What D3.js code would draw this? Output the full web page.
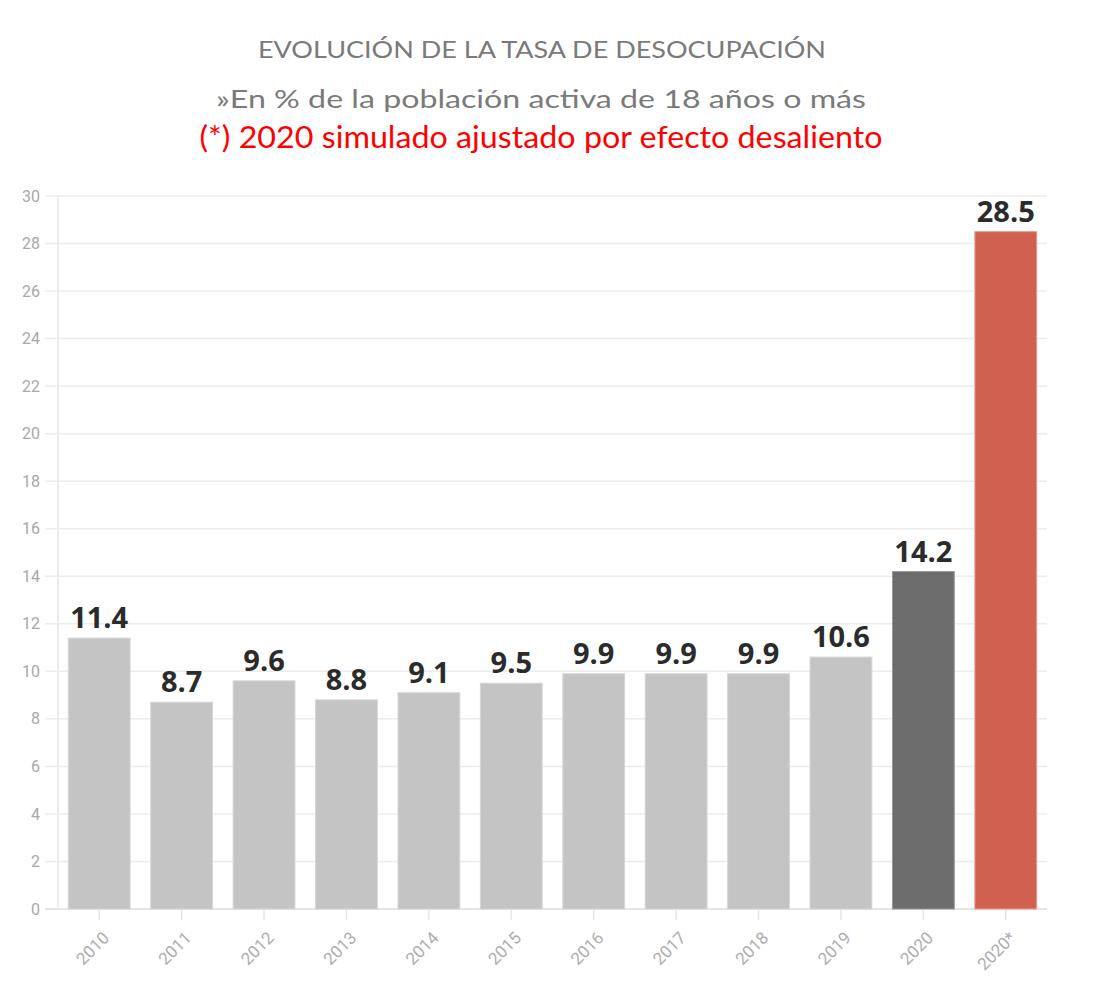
<!DOCTYPE html>
<html>
<head>
<meta charset="utf-8">
<script src="https://cdn.jsdelivr.net/npm/d3@7"></script>
<style>
  body { margin: 0; background: #fff; }
  svg { display: block; }
</style>
</head>
<body>
<div id="chart"></div>
<script>
var years = ["2010", "2011", "2012", "2013", "2014", "2015", "2016", "2017", "2018", "2019", "2020", "2020*"];
var rates = [11.4, 8.7, 9.6, 8.8, 9.1, 9.5, 9.9, 9.9, 9.9, 10.6, 14.2, 28.5];
var yTicks = [0, 2, 4, 6, 8, 10, 12, 14, 16, 18, 20, 22, 24, 26, 28, 30];
var titleLines = [
  "EVOLUCIÓN DE LA TASA DE DESOCUPACIÓN",
  "»En % de la población activa de 18 años o más",
  "(*) 2020 simulado ajustado por efecto desaliento"
];

var width = 1104, height = 997;
var margin = {top: 196, right: 57, bottom: 88, left: 58};

var data = years.map(function(y, i) { return {year: y, value: rates[i]}; });

var svg = d3.select("#chart").append("svg")
    .attr("width", width)
    .attr("height", height);

// titles (narrow font in the original, so squeeze to its measured width)
var titles = svg.append("g").attr("text-anchor", "middle")
    .style("font-family", "Lato, 'Open Sans', sans-serif");
titles.append("text")
    .attr("x", 542).attr("y", 58)
    .attr("fill", "#7a7a7a")
    .style("font-size", "23px")
    .attr("textLength", 568).attr("lengthAdjust", "spacingAndGlyphs")
    .text(titleLines[0]);
titles.append("text")
    .attr("x", 541).attr("y", 108)
    .attr("fill", "#7a7a7a")
    .style("font-size", "25px")
    .attr("textLength", 650).attr("lengthAdjust", "spacingAndGlyphs")
    .text(titleLines[1]);
titles.append("text")
    .attr("x", 541).attr("y", 148)
    .attr("fill", "#ff0000")
    .style("font-size", "30px")
    .attr("textLength", 683).attr("lengthAdjust", "spacingAndGlyphs")
    .text(titleLines[2]);

var x = d3.scaleBand()
    .domain(years)
    .range([margin.left, width - margin.right])
    .paddingInner(0.25)
    .paddingOuter(0.125);

var y = d3.scaleLinear()
    .domain([0, 30])
    .range([height - margin.bottom, margin.top]);

// grid
svg.append("g")
  .selectAll("line")
  .data(yTicks).enter()
  .append("line")
    .attr("x1", 45)
    .attr("x2", width - margin.right)
    .attr("y1", function(d) { return y(d); })
    .attr("y2", function(d) { return y(d); })
    .attr("stroke", function(d) { return d === 0 ? "#e6e6e6" : "#ececec"; })
    .attr("stroke-width", function(d) { return d === 0 ? 2 : 1.5; });

svg.append("line")
    .attr("x1", margin.left).attr("x2", margin.left)
    .attr("y1", y(30)).attr("y2", y(0))
    .attr("stroke", "#ececec")
    .attr("stroke-width", 2);

// y axis
var yAxis = svg.append("g")
    .attr("transform", "translate(" + margin.left + ",0)")
    .call(d3.axisLeft(y).tickValues(yTicks).tickSize(0).tickPadding(18));
yAxis.select(".domain").remove();
yAxis.selectAll("text")
    .attr("fill", "#a8a8a8")
    .style("font-family", "Roboto, 'Open Sans', sans-serif")
    .style("font-size", "16px");

// x axis
var xAxis = svg.append("g")
    .attr("transform", "translate(0," + y(0) + ")")
    .call(d3.axisBottom(x).tickSize(11).tickPadding(6));
xAxis.select(".domain").remove();
xAxis.selectAll("line").attr("stroke", "#e6e6e6").attr("stroke-width", 1.5);
xAxis.selectAll("text")
    .attr("fill", "#adadad")
    .style("font-family", "Roboto, 'Open Sans', sans-serif")
    .style("font-size", "17px")
    .attr("text-anchor", "end")
    .attr("x", 0)
    .attr("y", 0)
    .attr("dy", 0)
    .attr("transform", "translate(11,30) rotate(-45)");

function barColor(d) {
  if (d.year === "2020*") return "#d06050";
  if (d.year === "2020") return "#6d6d6d";
  return "#c4c4c4";
}
function barStroke(d) {
  if (d.year === "2020*") return "#e99a90";
  if (d.year === "2020") return "#9a9a9a";
  return "#d6d6d6";
}

// bars
svg.append("g")
  .selectAll("rect")
  .data(data).enter()
  .append("rect")
    .attr("x", function(d) { return x(d.year); })
    .attr("y", function(d) { return y(d.value); })
    .attr("width", x.bandwidth())
    .attr("height", function(d) { return y(0) - y(d.value); })
    .attr("fill", barColor)
    .attr("stroke", barStroke)
    .attr("stroke-width", 1);

// value labels
svg.append("g")
  .selectAll("text")
  .data(data).enter()
  .append("text")
    .attr("x", function(d) { return x(d.year) + x.bandwidth() / 2; })
    .attr("y", function(d) { return y(d.value) - 10; })
    .attr("text-anchor", "middle")
    .attr("fill", "#2b2b2b")
    .style("font-family", "'Open Sans', 'Noto Sans', sans-serif")
    .style("font-weight", "bold")
    .style("font-size", "29px")
    .text(function(d) { return d.value.toFixed(1); });
</script>
</body>
</html>
